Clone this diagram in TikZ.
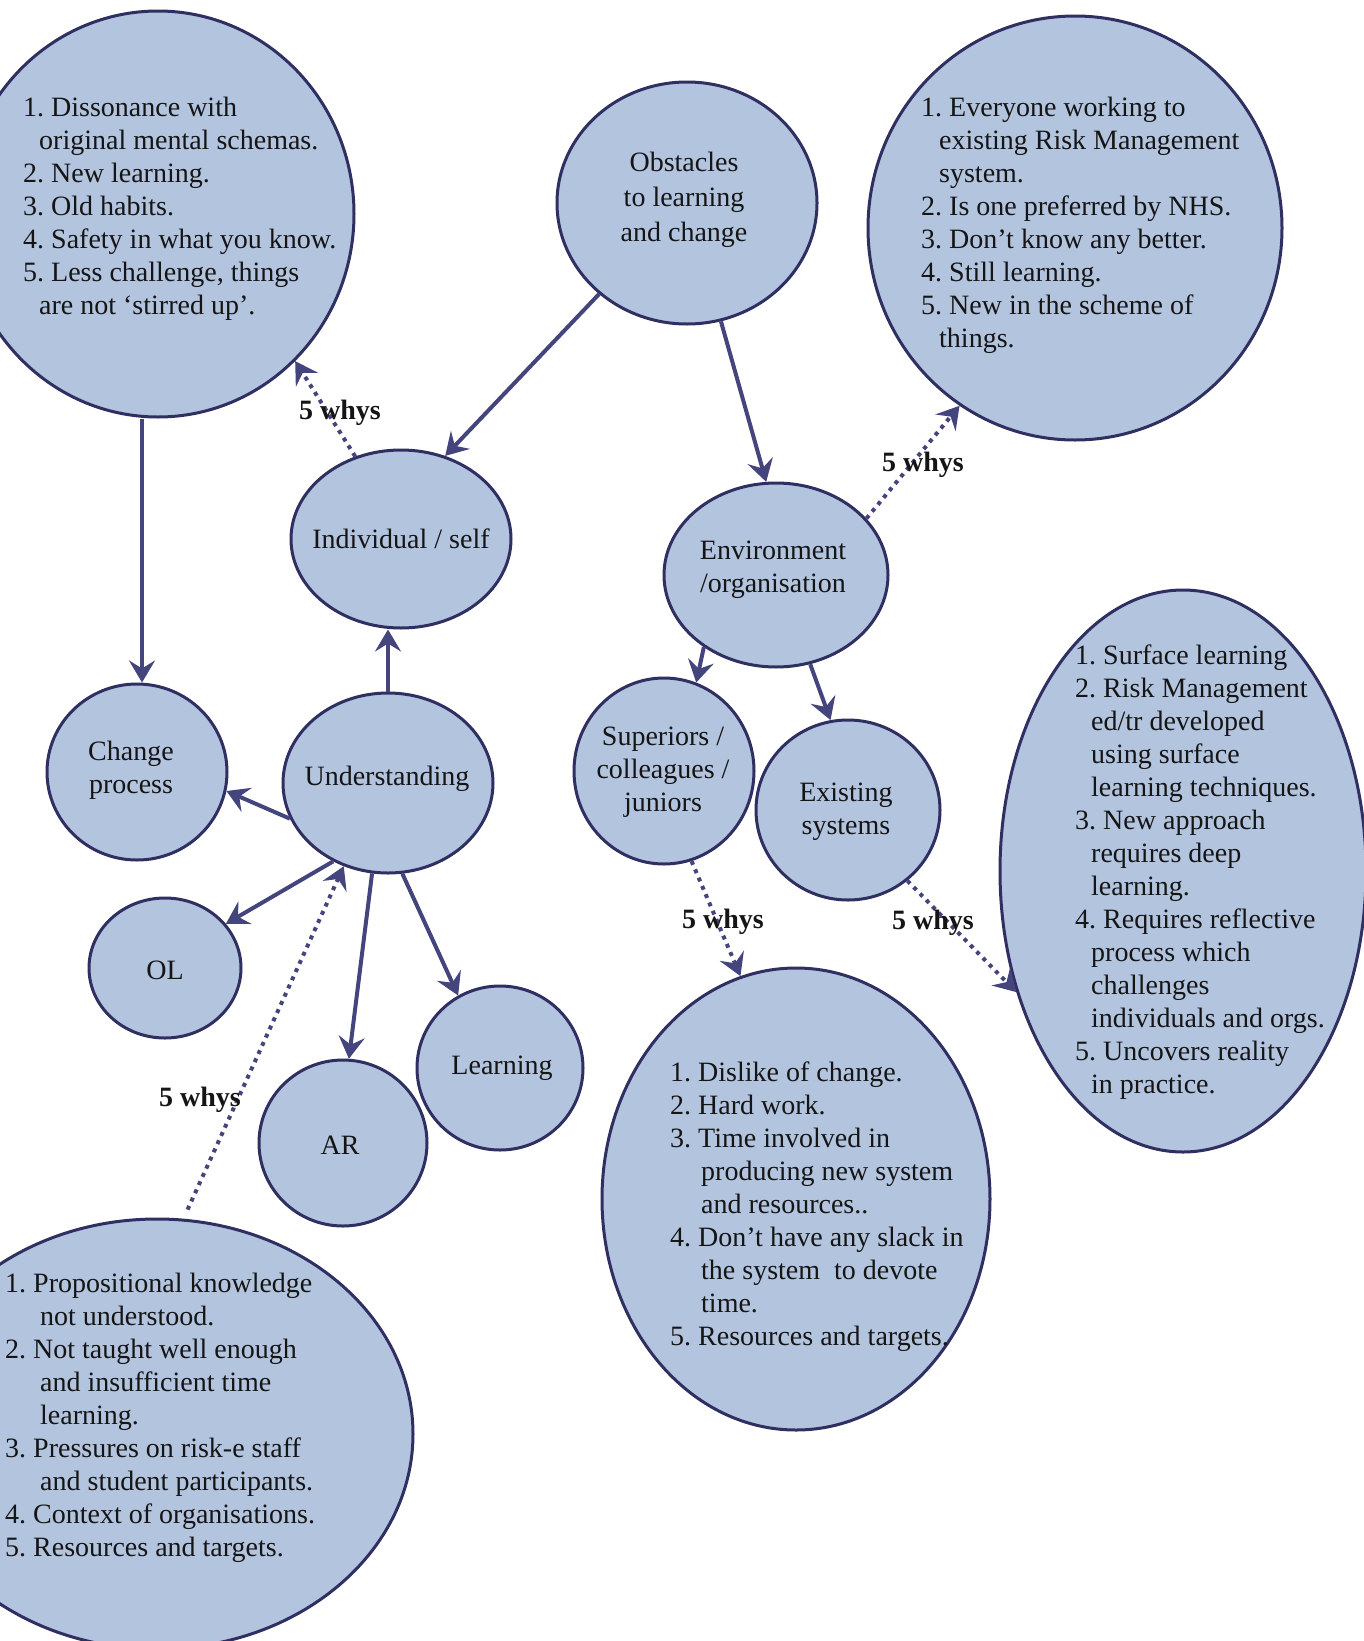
\documentclass[tikz,border=0pt]{standalone}
\usepackage{fontspec}
\setmainfont{Liberation Serif}
\usetikzlibrary{arrows.meta,shapes.geometric}

\definecolor{bubfill}{HTML}{B3C4DF}
\definecolor{bubline}{HTML}{2F2F62}
\definecolor{arrline}{HTML}{45457E}
\definecolor{ink}{HTML}{151515}

\newcommand{\hang}[1]{\hspace*{#1pt}}

\tikzset{
  bub/.style={ellipse, draw=bubline, line width=3pt, fill=bubfill, inner sep=0pt},
  txt/.style={font=\fontsize{28}{33}\selectfont\frenchspacing, align=center, inner sep=0pt, text=ink},
  listtxt/.style={font=\fontsize{28}{33}\selectfont\frenchspacing, align=left, inner sep=0pt, anchor=west, text=ink},
  why/.style={font=\fontsize{28}{33}\selectfont\bfseries, inner sep=0pt, text=ink},
  tipshape/.style={-{Stealth[length=22pt,width=26pt,inset=8pt]}},
  link/.style={draw=arrline, line width=4pt, tipshape},
  whyline/.style={draw=arrline, line width=4pt, dash pattern=on 4pt off 5pt, tipshape},
}

\begin{document}
\begin{tikzpicture}[x=1pt,y=-1pt]
\useasboundingbox (0,0) rectangle (1364,1641);
\fill[white] (0,0) rectangle (1364,1641);
\clip (0,0) rectangle (1364,1641);

% bubbles
\node[bub, minimum width=392, minimum height=406] (A) at (158,214) {};
\node[bub, minimum width=260, minimum height=242] (B) at (687,203) {};
\node[bub, minimum width=414, minimum height=424] (C) at (1075,228) {};
\node[bub, minimum width=220, minimum height=178] (D) at (401,539) {};
\node[bub, minimum width=224, minimum height=184] (E) at (776,575) {};
\node[bub, minimum width=180, minimum height=176] (F) at (137,772) {};
\node[bub, minimum width=210, minimum height=180] (G) at (388,783) {};
\node[bub, minimum width=180, minimum height=186] (H) at (664,771) {};
\node[bub, minimum width=184, minimum height=180] (I) at (848,810) {};
\node[bub, minimum width=152, minimum height=140] (J) at (165,968) {};
\node[bub, minimum width=168, minimum height=166] (K) at (343,1143) {};
\node[bub, minimum width=166, minimum height=164] (L) at (500,1068) {};
\node[bub, minimum width=512, minimum height=430] (M) at (157,1434) {};
\node[bub, minimum width=388, minimum height=462] (N) at (796,1199) {};
\node[bub, minimum width=366, minimum height=562] (O) at (1183,871) {};

% solid connectors
\draw[link] (B.226) -- (D.62);
\draw[link] (B.286) -- (E.96);
\draw[link] ([xshift=5pt]A.south -| F.north) -- ([xshift=5pt]F.north);
\draw[link] (G.north) -- (G.north |- D.south);
\draw[link] (G.200) -- (F.-12);
\draw[link] (G.235) -- (J.36);
\draw[link] (G.260) -- (K.86);
\draw[link] (G.279) -- (L.120);
\draw[link] (E.225) -- (H.70);
\draw[link] (E.291) -- (I.101);

% "5 whys" connectors
\draw[whyline] (D.119) -- (A.313);
\draw[whyline] (E.32) -- (C.237);
\draw[whyline, shorten <=10pt] (M.83) -- (G.242);
\draw[whyline] (H.287) -- (N.104);
\draw[whyline] (I.310) -- (O.216);

\node[why] (w1) at (340,413) {5 whys};
\node[why] (w2) at (923,465) {5 whys};
\node[why] (w3) at (200,1100) {5 whys};
\node[why] (w4) at (723,922) {5 whys};
\node[why] (w5) at (933,923) {5 whys};

% short labels
\node[txt, font=\fontsize{28}{35}\selectfont] (Bt) at (684,200) {Obstacles\\to learning\\and change};
\node[txt] (Dt) at (401,539) {Individual / self};
\node[txt] (Et) at (773,570) {Environment\\/organisation};
\node[txt] (Ft) at (131,770) {Change\\process};
\node[txt] (Gt) at (387,779) {Understanding};
\node[txt] (Ht) at (663,772) {Superiors /\\colleagues /\\juniors};
\node[txt] (It) at (846,812) {Existing\\systems};
\node[txt] (Jt) at (165,970) {OL};
\node[txt] (Kt) at (340,1145) {AR};
\node[txt] (Lt) at (502,1068) {Learning};

% numbered lists
\node[listtxt] (At) at (23,209) {1. Dissonance with\\
\hang{16}original mental schemas.\\
2. New learning.\\
3. Old habits.\\
4. Safety in what you know.\\
5. Less challenge, things\\
\hang{16}are not ‘stirred up’.};

\node[listtxt] (Ct) at (921,225) {1. Everyone working to\\
\hang{18}existing Risk Management\\
\hang{18}system.\\
2. Is one preferred by NHS.\\
3. Don’t know any better.\\
4. Still learning.\\
5. New in the scheme of\\
\hang{18}things.};

\node[listtxt] (Ot) at (1075,872) {1. Surface learning\\
2. Risk Management\\
\hang{16}ed/tr developed\\
\hang{16}using surface\\
\hang{16}learning techniques.\\
3. New approach\\
\hang{16}requires deep\\
\hang{16}learning.\\
4. Requires reflective\\
\hang{16}process which\\
\hang{16}challenges\\
\hang{16}individuals and orgs.\\
5. Uncovers reality\\
\hang{16}in practice.};

\node[listtxt] (Nt) at (670,1207) {1. Dislike of change.\\
2. Hard work.\\
3. Time involved in\\
\hang{31}producing new system\\
\hang{31}and resources..\\
4. Don’t have any slack in\\
\hang{31}the system \ to devote\\
\hang{31}time.\\
5. Resources and targets.};

\node[listtxt] (Mt) at (5,1418) {1. Propositional knowledge\\
\hang{35}not understood.\\
2. Not taught well enough\\
\hang{35}and insufficient time\\
\hang{35}learning.\\
3. Pressures on risk-e staff\\
\hang{35}and student participants.\\
4. Context of organisations.\\
5. Resources and targets.};

\end{tikzpicture}
\end{document}
